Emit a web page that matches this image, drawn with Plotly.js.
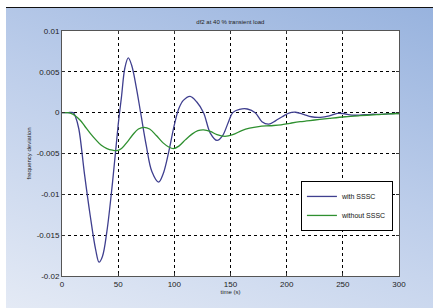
<!DOCTYPE html>
<html>
<head>
<meta charset="utf-8">
<script src="https://cdn.plot.ly/plotly-3.0.1.min.js"></script>
<style>
html,body{margin:0;padding:0;background:#ffffff;}
#wrap{position:relative;width:438px;height:308px;overflow:hidden;}
#bg{position:absolute;left:6px;top:7px;width:427px;height:301px;border-top:1px solid #111;
background:linear-gradient(200deg,#98b3de 0%,#bccdea 45%,#e4eaf5 100%);}
#chart{position:absolute;left:0;top:0;width:438px;height:308px;}
</style>
</head>
<body>
<div id="wrap"><div id="bg"></div><div id="chart"></div></div>
<script>
const titleText = "df2 at 40 % transient load";
const xLabel = "time (s)";
const yLabel = "frequency deviation";
const seriesNames = ["with SSSC", "without SSSC"];

const tWith = [0,5,10,12,15,20,25,30,33,36,40,45,50,53,56,59,62,66,70,75,80,86,90,95,100,104,108,114,120,126,132,138,143,148,152,158,165,172,178,184,190,196,202,208,215,222,230,238,245,250,258,265,275,285,295,300];
const vWith = [0,0,0,-0.0005,-0.002,-0.0075,-0.0125,-0.0168,-0.0183,-0.0176,-0.0145,-0.0085,-0.0015,0.002,0.0055,0.0067,0.0058,0.0032,0,-0.004,-0.0072,-0.0085,-0.0075,-0.0048,-0.0015,0.0005,0.0015,0.002,0.0013,0,-0.0025,-0.0034,-0.0028,-0.0012,0,0.0004,0.00045,0,-0.0011,-0.0014,-0.001,-0.0005,-0.00005,0.00005,-0.0002,-0.0005,-0.00057,-0.0004,-0.0001,-0.0001,-0.0003,-0.0003,-0.0002,-0.0002,-0.0001,-0.0001];

const tWithout = [0,5,8,12,16,20,25,30,35,40,45,49,53,58,63,68,73,78,84,90,95,99,104,110,116,121,126,132,138,145,152,160,167,175,185,195,203,212,225,238,252,265,280,290,300];
const vWithout = [0,0,-0.0001,-0.0004,-0.0009,-0.0016,-0.0025,-0.0033,-0.004,-0.0044,-0.0046,-0.00465,-0.0044,-0.0036,-0.0027,-0.002,-0.0018,-0.002,-0.0028,-0.0037,-0.0042,-0.0044,-0.0041,-0.0033,-0.0026,-0.0022,-0.0021,-0.0023,-0.0027,-0.0029,-0.0027,-0.0022,-0.0019,-0.0017,-0.0016,-0.0015,-0.0013,-0.0011,-0.0009,-0.0007,-0.0005,-0.00037,-0.00025,-0.00015,-0.0001];

const xTicks = [0,50,100,150,200,250,300];
const yTicks = [-0.02,-0.015,-0.01,-0.005,0,0.005,0.01];
const yTickText = ["-0.02","-0.015","-0.01","-0.005","0","0.005","0.01"];

const font = "Liberation Sans, Arial, sans-serif";

const traces = [
  {x:tWith, y:vWith, name:seriesNames[0], type:"scatter", mode:"lines",
   line:{color:"#3f3f8f", width:1.3, shape:"spline", smoothing:1}},
  {x:tWithout, y:vWithout, name:seriesNames[1], type:"scatter", mode:"lines",
   line:{color:"#2f9030", width:1.3, shape:"spline", smoothing:1}}
];

const axisCommon = {
  showgrid:true, gridcolor:"#000000", gridwidth:1, griddash:"3px,3px",
  zeroline:false, showline:true, linecolor:"#555555", linewidth:1, mirror:"ticks",
  ticks:"inside", ticklen:3, tickcolor:"#333333",
  tickfont:{family:font, size:8, color:"#222222"}
};

const layout = {
  width:438, height:308,
  margin:{l:62, r:39, t:31, b:32, pad:0},
  paper_bgcolor:"rgba(0,0,0,0)",
  plot_bgcolor:"#ffffff",
  title:{text:titleText, font:{family:font, size:6, color:"#222"}, x:0.526, xanchor:"center", y:1-22/308, yref:"container", yanchor:"middle"},
  xaxis:Object.assign({}, axisCommon, {range:[0,300], tickvals:xTicks, ticktext:xTicks.map(String),
    title:{text:xLabel, font:{family:font, size:6, color:"#222"}, standoff:2}}),
  yaxis:Object.assign({}, axisCommon, {range:[-0.02,0.01], tickvals:yTicks, ticktext:yTickText,
    title:{text:yLabel, font:{family:font, size:6, color:"#222"}, standoff:4}}),
  showlegend:true,
  legend:{x:0.709, y:0.388, xanchor:"left", yanchor:"top", bgcolor:"#ffffff", bordercolor:"#000000", borderwidth:1,
    font:{family:font, size:7, color:"#111"}, tracegroupgap:0, itemwidth:30},
};

Plotly.newPlot("chart", traces, layout, {displayModeBar:false, staticPlot:true});
</script>
</body>
</html>
